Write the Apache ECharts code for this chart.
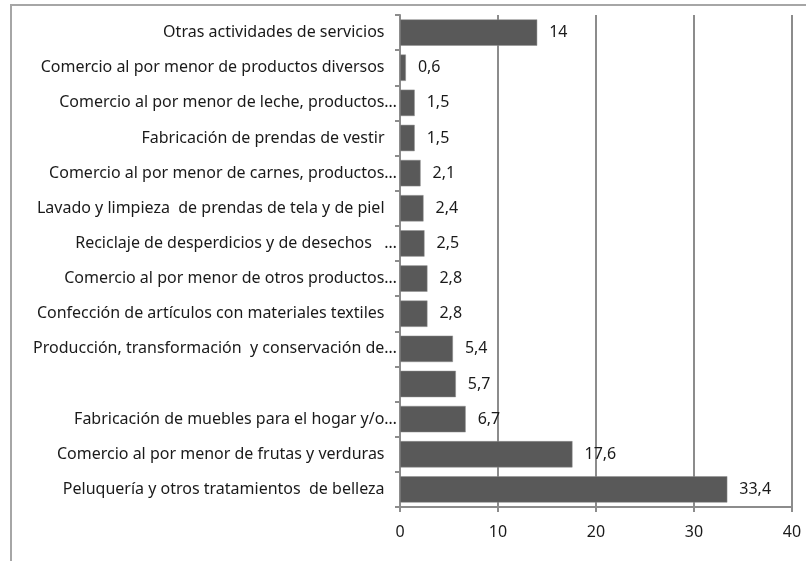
<!DOCTYPE html>
<html>
<head>
<meta charset="utf-8">
<script src="https://cdn.jsdelivr.net/npm/echarts@6/dist/echarts.min.js"></script>
<style>html,body{margin:0;padding:0;background:#fff}#c{width:806px;height:561px}</style>
</head>
<body>
<div id="c"></div>
<script>
// Categories listed bottom to top (ECharts category y axis starts at the bottom)
const categories = [
  "Peluquería y otros tratamientos  de belleza",
  "Comercio al por menor de frutas y verduras",
  "Fabricación de muebles para el hogar y/o…",
  "",
  "Producción, transformación  y conservación de…",
  "Confección de artículos con materiales textiles",
  "Comercio al por menor de otros productos…",
  "Reciclaje de desperdicios y de desechos   …",
  "Lavado y limpieza  de prendas de tela y de piel",
  "Comercio al por menor de carnes, productos…",
  "Fabricación de prendas de vestir",
  "Comercio al por menor de leche, productos…",
  "Comercio al por menor de productos diversos",
  "Otras actividades de servicios"
];
const values = [33.4, 17.6, 6.7, 5.7, 5.4, 2.8, 2.8, 2.5, 2.4, 2.1, 1.5, 1.5, 0.6, 14];
const xTicks = [0, 10, 20, 30, 40];

const chart = echarts.init(document.getElementById('c'), null, {renderer: 'canvas'});
const font = "'Noto Sans', sans-serif";
chart.setOption({
  animation: false,
  backgroundColor: '#fff',
  graphic: [{
    type: 'rect',
    shape: {x: 11, y: 5, width: 830, height: 600},
    style: {fill: 'none', stroke: '#a6a6a6', lineWidth: 2},
    silent: true
  }],
  grid: {left: 400, right: 14, top: 15, bottom: 54, containLabel: false},
  xAxis: {
    type: 'value',
    min: xTicks[0],
    max: xTicks[xTicks.length - 1],
    interval: 10,
    axisLine: {show: true, lineStyle: {color: '#8c8c8c', width: 2}},
    axisTick: {show: true, length: 5, lineStyle: {color: '#8c8c8c', width: 2}},
    axisLabel: {color: '#1a1a1a', fontSize: 16, fontFamily: font, margin: 17},
    splitLine: {show: true, lineStyle: {color: '#8c8c8c', width: 2}}
  },
  yAxis: {
    type: 'category',
    data: categories,
    axisLine: {show: true, lineStyle: {color: '#8c8c8c', width: 2}},
    axisTick: {show: true, length: 5, lineStyle: {color: '#8c8c8c', width: 2}},
    axisLabel: {
      color: '#1a1a1a', fontSize: 16, fontFamily: font, margin: 3, interval: 0,
      formatter: v => (v === '' || v.endsWith('…')) ? v : v + '   '
    },
    splitLine: {show: false}
  },
  series: [{
    type: 'bar',
    data: values,
    barCategoryGap: '25%',
    itemStyle: {color: '#595959', borderColor: '#8f8f8f', borderWidth: 0.5},
    label: {
      show: true,
      position: 'right',
      distance: 12,
      color: '#1a1a1a',
      fontSize: 16,
      fontFamily: font,
      formatter: p => String(p.value).replace('.', ',')
    }
  }]
});
</script>
</body>
</html>
